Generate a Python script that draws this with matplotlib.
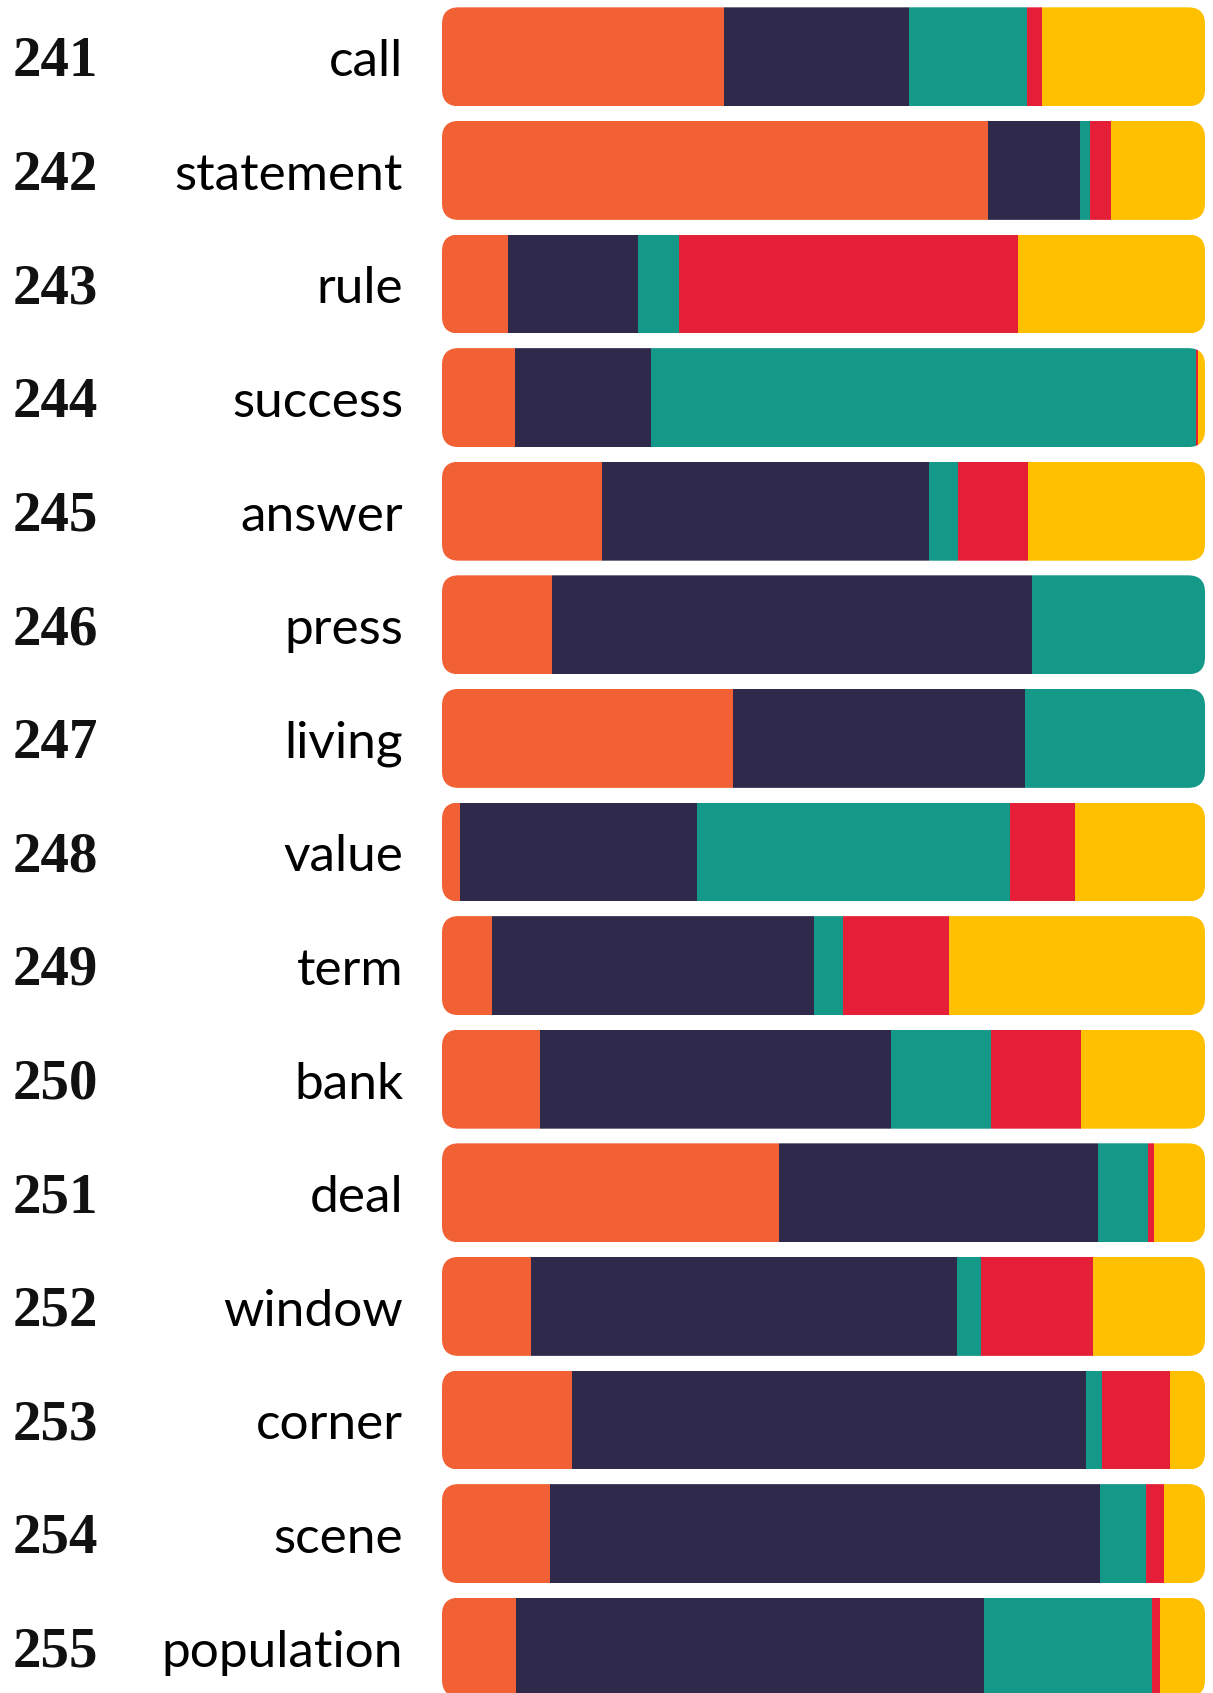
import matplotlib
matplotlib.use("Agg")
import matplotlib.pyplot as plt
from matplotlib.patches import FancyBboxPatch

# rank, word and the share of each of the five groups
ranks = [241, 242, 243, 244, 245, 246, 247, 248, 249, 250, 251, 252, 253, 254, 255]
words = ["call", "statement", "rule", "success", "answer", "press", "living", "value",
         "term", "bank", "deal", "window", "corner", "scene", "population"]

orange = [0.370, 0.715, 0.087, 0.096, 0.210, 0.144, 0.382, 0.024, 0.065, 0.129, 0.442, 0.116, 0.170, 0.141, 0.097]
dark   = [0.242, 0.121, 0.170, 0.178, 0.428, 0.629, 0.382, 0.310, 0.422, 0.460, 0.418, 0.559, 0.674, 0.721, 0.613]
teal   = [0.155, 0.013, 0.053, 0.714, 0.038, 0.227, 0.236, 0.411, 0.038, 0.130, 0.065, 0.031, 0.021, 0.061, 0.221]
red    = [0.019, 0.028, 0.445, 0.003, 0.092, 0.000, 0.000, 0.084, 0.139, 0.119, 0.008, 0.147, 0.089, 0.023, 0.010]
yellow = [0.214, 0.123, 0.245, 0.009, 0.232, 0.000, 0.000, 0.171, 0.336, 0.162, 0.067, 0.147, 0.046, 0.054, 0.059]

couleurs = ["#F26135", "#2F2A4C", "#149887", "#E41F37", "#FFC000"]
series = [orange, dark, teal, red, yellow]

W, H = 1213, 1693
fig = plt.figure(figsize=(W / 100, H / 100), dpi=100)
fig.patch.set_facecolor("white")

left_px, right_px = 442, 1205
pitch = 113.6
ax = fig.add_axes([left_px / W, 0, (right_px - left_px) / W, 1])
ax.set_xlim(0, 1)
ax.set_ylim(H / pitch - 0.5, -0.5)
ax.axis("off")

hauteur = 0.871
aspect = (right_px - left_px) / pitch

for i in range(len(ranks)):
    tot = sum(s[i] for s in series)
    # rounded outline used as clip for the segments
    cadre = FancyBboxPatch((0, i - hauteur / 2), 1, hauteur,
                           boxstyle="round,pad=0,rounding_size=0.022",
                           mutation_aspect=aspect,
                           facecolor="none", edgecolor="none")
    ax.add_patch(cadre)
    gauche = 0
    for s, c in zip(series, couleurs):
        v = s[i] / tot
        if v <= 0:
            continue
        bars = ax.barh(i, v, left=gauche, height=hauteur, color=c, linewidth=0)
        for b in bars:
            b.set_clip_path(cadre)
        gauche += v

    trans = ax.get_yaxis_transform()
    ax.text(-0.563, i + 0.17, str(ranks[i]), transform=trans, ha="left", va="baseline",
            fontsize=41, fontweight="bold", family="Liberation Serif", color="#111111")
    ax.text(-0.051, i + 0.17, words[i], transform=trans, ha="right", va="baseline",
            fontsize=37, fontweight="normal", family="Lato", color="#000000")

fig.savefig("out.png", dpi=100, facecolor="white")
